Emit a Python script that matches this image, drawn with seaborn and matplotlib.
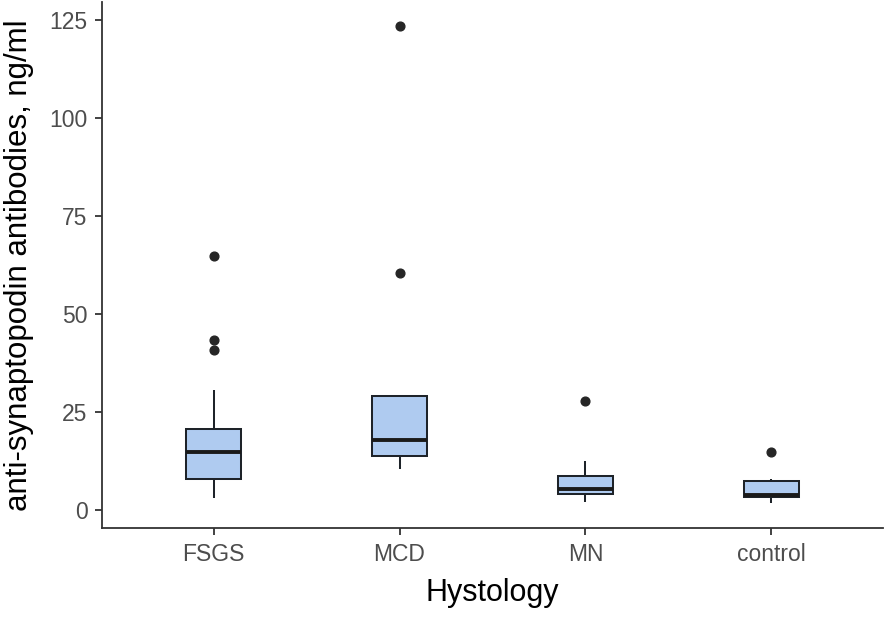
import numpy as np
import pandas as pd
import matplotlib
matplotlib.use("Agg")
import matplotlib.pyplot as plt
import seaborn as sns

# anti-synaptopodin antibodies, ng/ml
groups = ['FSGS', 'MCD', 'MN', 'control']
fsgs = [3.1, 4.5, 5.6, 6.4, 7.2, 8.0, 9.3, 10.8, 12.1, 13.5, 14.7,
        15.8, 16.9, 18.0, 19.2, 20.6, 24.5, 30.7, 40.8, 43.3, 64.7]
mcd = [10.5, 12.4, 13.7, 15.9, 17.8, 22.6, 29.0, 60.4, 123.6]
mn = [2.1, 2.9, 3.5, 4.1, 4.6, 5.0, 5.4, 6.3, 7.4, 8.7, 10.1, 12.6, 27.9]
control = [1.7, 2.6, 3.4, 3.6, 3.8, 6.1, 7.5, 7.9, 14.9]
y_ticks = [0, 25, 50, 75, 100, 125]

values = [fsgs, mcd, mn, control]
df = pd.DataFrame({
    'Hystology': np.repeat(groups, [len(v) for v in values]),
    'value': np.concatenate(values),
})

sns.set_style('ticks')
plt.rcParams['font.family'] = ['Liberation Sans', 'DejaVu Sans']

fig = plt.figure(figsize=(8.86, 6.18), dpi=100)
ax = fig.add_axes([0.1151, 0.1456, 0.8815, 0.8518])

sns.boxplot(data=df, x='Hystology', y='value', order=groups, width=0.3,
            color='#AFCBF0', saturation=1, linecolor='#1e2329', linewidth=1.45,
            fliersize=6.3, showcaps=False,
            flierprops=dict(marker='o', markerfacecolor='#262626', markeredgecolor='#262626'),
            medianprops=dict(linewidth=2.8, color='#1a1a1a'),
            ax=ax)

ax.set_xlim(-0.6, 3.6)
ax.set_ylim(-4.6, 129.7)
ax.set_yticks(y_ticks)
sns.despine(ax=ax)
for side in ['left', 'bottom']:
    ax.spines[side].set_color('#333333')
    ax.spines[side].set_linewidth(1.3)

ax.tick_params(axis='both', length=5, width=1.3, color='#333333',
               labelsize=16.5, labelcolor='#4d4d4d', pad=5.5)

ax.set_xlabel('Hystology', fontsize=22, color='black', labelpad=9)
ax.set_ylabel('anti-synaptopodin antibodies, ng/ml', fontsize=22.5, color='black', labelpad=11)

fig.savefig('out.png', dpi=100)
